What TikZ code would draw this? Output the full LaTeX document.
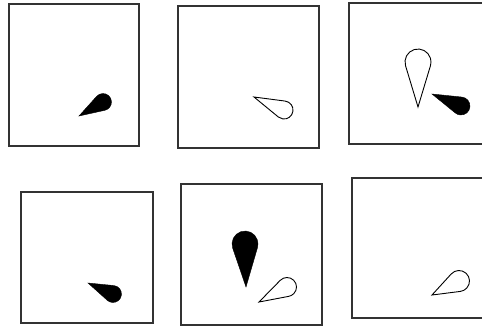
\documentclass[tikz,border=0pt]{standalone}
\usetikzlibrary{calc}
\tikzset{
  frame/.style={draw=black!80, line width=1.4pt},
  soliddrop/.style={fill=black, draw=black, line width=0.4pt},
  hollowdrop/.style={draw=black, line width=0.9pt, fill=white}
}
\newcommand{\teardrop}[6]{%
  \pgfmathsetmacro{\tdX}{#2-#4}%
  \pgfmathsetmacro{\tdY}{#3-#5}%
  \pgfmathsetmacro{\tdD}{sqrt(\tdX*\tdX+\tdY*\tdY)}%
  \pgfmathsetmacro{\tdT}{atan2(\tdY,\tdX)}%
  \pgfmathsetmacro{\tdA}{acos(#6/\tdD)}%
  \pgfmathsetmacro{\tdS}{\tdT+\tdA}%
  \pgfmathsetmacro{\tdE}{\tdT-\tdA+360}%
  \draw[#1] (#2,#3) -- ($(#4,#5)+(\tdS:#6)$) arc[start angle=\tdS, end angle=\tdE, radius=#6] -- cycle;
}
\begin{document}
\begin{tikzpicture}[x=1pt,y=-1pt]
\useasboundingbox (0,0) rectangle (482,327);
\clip (0,0) rectangle (482,327);
% top row
\draw[frame] (9,4) rectangle (139,146);
\draw[frame] (178,6) rectangle (319,148);
\draw[frame] (349,3) rectangle (492,144);
% bottom row
\draw[frame] (21,192) rectangle (153,323);
\draw[frame] (181,184) rectangle (322,325);
\draw[frame] (352,178) rectangle (492,318);
% drops
\teardrop{soliddrop}{79}{116}{103}{102}{8.5}
\teardrop{hollowdrop}{254}{97}{284}{110}{9}
\teardrop{hollowdrop}{418}{107}{418}{62}{13}
\teardrop{soliddrop}{432}{94}{461}{106}{9}
\teardrop{soliddrop}{88}{283}{113}{294}{8.5}
\teardrop{soliddrop}{246}{287}{245}{244}{13}
\teardrop{hollowdrop}{259}{302}{287}{287}{9.5}
\teardrop{hollowdrop}{432}{295}{459}{281}{10.5}
\end{tikzpicture}
\end{document}
